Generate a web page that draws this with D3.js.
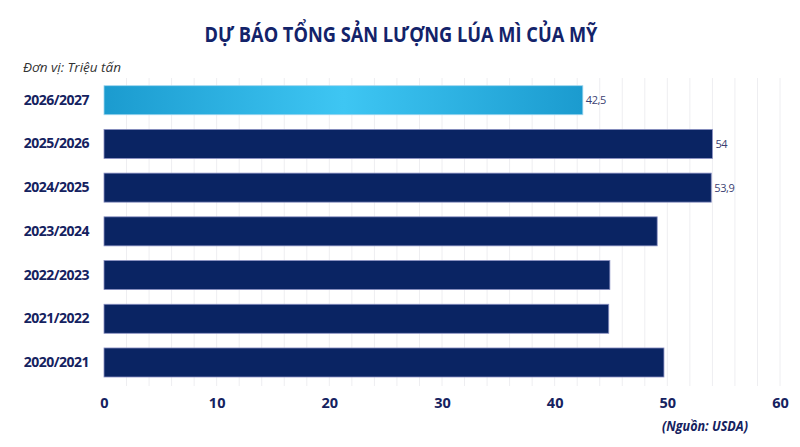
<!DOCTYPE html>
<html>
<head>
<meta charset="utf-8">
<script src="https://cdn.jsdelivr.net/npm/d3@7"></script>
<style>
  body { margin: 0; background: #fff; }
  svg { display: block; font-family: "Open Sans", sans-serif; }
</style>
</head>
<body>
<svg id="chart" width="800" height="447"></svg>
<script>
// data (million tonnes)
const seasons = ['2026/2027', '2025/2026', '2024/2025', '2023/2024', '2022/2023', '2021/2022', '2020/2021'];
const output = [42.5, 54, 53.9, 49.1, 44.9, 44.8, 49.7];
const shownLabels = ['42,5', '54', '53,9', '', '', '', ''];
const xTicks = [0, 10, 20, 30, 40, 50, 60];

const navy = '#0a2463';
const textNavy = '#152260';

const svg = d3.select('#chart');

const x = d3.scaleLinear().domain([0, 60]).range([104, 780]);
const y = d3.scaleBand().domain(seasons).range([85.7, 377]).paddingInner(0.336).paddingOuter(0);

// gradient for the forecast bar
const defs = svg.append('defs');
const grad = defs.append('linearGradient').attr('id', 'hl').attr('x1', '0%').attr('x2', '100%');
grad.append('stop').attr('offset', '0%').attr('stop-color', '#1b9bcf');
grad.append('stop').attr('offset', '50%').attr('stop-color', '#3ec6f3');
grad.append('stop').attr('offset', '100%').attr('stop-color', '#1b9bcf');

// title
svg.append('text')
    .attr('x', 401).attr('y', 42)
    .attr('text-anchor', 'middle')
    .attr('font-size', 21)
    .attr('font-weight', 'bold')
    .attr('fill', '#13236a')
    .attr('textLength', 393)
    .attr('lengthAdjust', 'spacingAndGlyphs')
    .text('DỰ BÁO TỔNG SẢN LƯỢNG LÚA MÌ CỦA MỸ');

svg.append('text')
    .attr('x', 23).attr('y', 72)
    .attr('font-size', 13)
    .attr('font-style', 'italic')
    .attr('fill', '#333')
    .attr('textLength', 98)
    .attr('lengthAdjust', 'spacingAndGlyphs')
    .text('Đơn vị: Triệu tấn');

// faint vertical grid every 2 units
svg.append('g')
    .selectAll('line')
    .data(d3.range(2, 61, 2))
    .join('line')
    .attr('x1', d => x(d)).attr('x2', d => x(d))
    .attr('y1', 78).attr('y2', 386)
    .attr('stroke', '#eeeef1')
    .attr('stroke-width', 1);

// bars
svg.append('g')
    .selectAll('rect')
    .data(seasons)
    .join('rect')
    .attr('x', x(0))
    .attr('y', d => y(d))
    .attr('width', (d, i) => x(output[i]) - x(0))
    .attr('height', y.bandwidth())
    .attr('fill', (d, i) => i === 0 ? 'url(#hl)' : navy)
    .attr('stroke', (d, i) => i === 0 ? '#9fd6ef' : '#8a90c2')
    .attr('stroke-width', 0.8);

// value labels
svg.append('g')
    .selectAll('text')
    .data(seasons)
    .join('text')
    .attr('x', (d, i) => x(output[i]) + 3)
    .attr('y', d => y(d) + y.bandwidth() / 2 + 4)
    .attr('font-size', 11)
    .attr('fill', '#3c3f72')
    .attr('letter-spacing', -0.4)
    .text((d, i) => shownLabels[i]);

// category axis
svg.append('g')
    .attr('transform', `translate(${x(0)},0)`)
    .call(d3.axisLeft(y).tickSize(0).tickPadding(15))
    .call(g => g.select('.domain').remove())
    .call(g => g.selectAll('text')
        .attr('font-family', '"Open Sans", sans-serif')
        .attr('font-size', 14)
        .attr('font-weight', 'bold')
        .attr('fill', textNavy)
        .attr('letter-spacing', -0.5));

// value axis
svg.append('g')
    .attr('transform', 'translate(0,388)')
    .call(d3.axisBottom(x).tickValues(xTicks).tickSize(0).tickPadding(10))
    .call(g => g.select('.domain').remove())
    .call(g => g.selectAll('text')
        .attr('font-family', '"Open Sans", sans-serif')
        .attr('font-size', 14.5)
        .attr('font-weight', 'bold')
        .attr('fill', textNavy));

// source
svg.append('text')
    .attr('x', 748).attr('y', 431)
    .attr('text-anchor', 'end')
    .attr('font-size', 14)
    .attr('font-weight', 'bold')
    .attr('font-style', 'italic')
    .attr('fill', textNavy)
    .attr('textLength', 86)
    .attr('lengthAdjust', 'spacingAndGlyphs')
    .text('(Nguồn: USDA)');
</script>
</body>
</html>
